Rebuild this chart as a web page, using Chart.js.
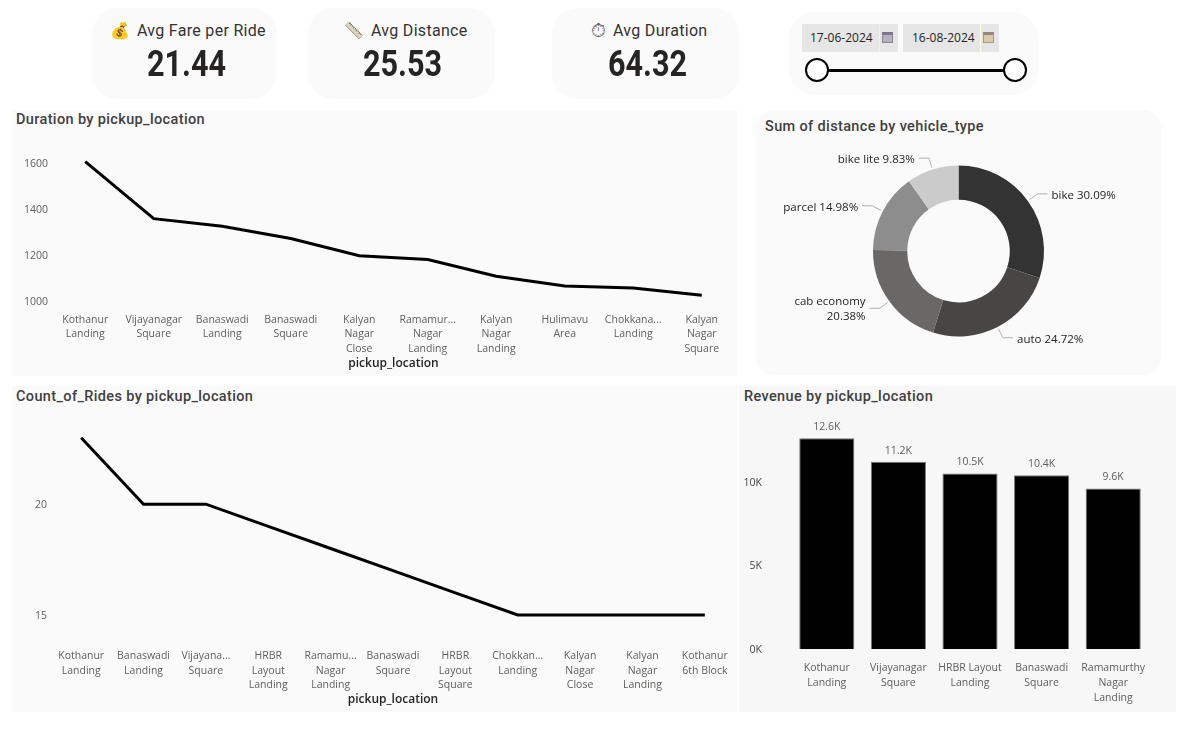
<!DOCTYPE html>
<html><head><meta charset="utf-8">
<script src="https://cdn.jsdelivr.net/npm/chart.js@4"></script>
<style>
html,body{margin:0;padding:0;background:#fff;width:1192px;height:729px;overflow:hidden;font-family:"Open Sans",sans-serif}
.p{position:absolute;background:#fafafa}
.t{position:absolute;font-family:Roboto,sans-serif;font-size:14.5px;font-weight:500;color:#404040;letter-spacing:.36px;white-space:nowrap}
.c{position:absolute}
.cl{position:absolute;font-family:Roboto,sans-serif;font-size:16px;color:#333;letter-spacing:.3px;white-space:nowrap;top:20.5px;height:20px;line-height:20px;display:flex;align-items:center}
.cl i{font-style:normal;display:inline-block;text-align:center;letter-spacing:0;height:20px;line-height:20px}
.cv{position:absolute;text-align:center;font-family:Roboto,sans-serif;font-size:36px;font-weight:700;color:#252423;white-space:nowrap;transform:scaleX(.85);top:43px}
.d{position:absolute;background:#e6e6e6;font-size:12px;color:#252423;height:28px;line-height:28px;white-space:nowrap;box-sizing:border-box}
.d b{position:absolute;right:0;top:0;width:19px;height:28px;border-left:1px solid #eee;box-sizing:border-box}
.d b::before{content:"";position:absolute;left:2px;top:8px;width:11px;height:11px;box-sizing:border-box;background:#b6b2bd;border-top:3px solid #7d7394;border-left:1px solid #8a8594;border-right:1px solid #8a8594;border-bottom:1px solid #8a8594}
.k{position:absolute;box-sizing:border-box;border:2px solid #000;border-radius:50%;background:#fff;width:24px;height:24px;top:58px}
</style></head><body>
<div class="p" style="left:92px;top:8px;width:185px;height:91px;border-radius:26px"></div>
<div class="p" style="left:308px;top:8px;width:187px;height:91px;border-radius:26px"></div>
<div class="p" style="left:552px;top:8px;width:187px;height:91px;border-radius:26px"></div>
<div class="p" style="left:789px;top:12px;width:249px;height:83px;border-radius:26px"></div>
<div class="cl" style="left:110px" id="k1"></div>
<div class="cl" style="left:344px" id="k2"></div>
<div class="cl" style="left:588px" id="k3"></div>
<div class="cv" style="left:94px;width:185px" id="v1"></div>
<div class="cv" style="left:309px;width:187px" id="v2"></div>
<div class="cv" style="left:553.5px;width:187px" id="v3"></div>
<div class="d" style="left:802px;top:24px;width:96px;padding-left:8px"><span id="d1"></span><b></b></div>
<div class="d" style="left:903px;top:24px;width:96px;padding-left:9px"><span id="d2"></span><b style="filter:sepia(.6)"></b></div>
<div style="position:absolute;left:820px;top:69px;width:192px;height:3px;background:#000"></div>
<div class="k" style="left:805px"></div><div class="k" style="left:1003px"></div>

<div class="p" style="left:12px;top:110px;width:726px;height:266px"></div>
<div class="p" style="left:755px;top:110px;width:407px;height:265px;border-radius:20px"></div>
<div class="p" style="left:12px;top:386px;width:726px;height:326px"></div>
<div class="p" style="left:739px;top:386px;width:437px;height:326px;background:#f7f7f7"></div>
<div class="t" style="left:16px;top:111px" id="t1"></div>
<div class="t" style="left:765px;top:118px" id="t2"></div>
<div class="t" style="left:16px;top:388px" id="t3"></div>
<div class="t" style="left:744px;top:388px" id="t4"></div>
<canvas class="c" id="c1" style="left:12px;top:130px"></canvas>
<canvas class="c" id="c2" style="left:755px;top:135px"></canvas>
<canvas class="c" id="c3" style="left:12px;top:408px"></canvas>
<canvas class="c" id="c4" style="left:739px;top:408px"></canvas>
<script>
const kpiIcons=["💰","📏","⏱"];
const kpiLabels=["Avg Fare per Ride","Avg Distance","Avg Duration"];
const kpiValues=["21.44","25.53","64.32"];
const dateRange=["17-06-2024","16-08-2024"];
const titles=["Duration by pickup_location","Sum of distance by vehicle_type","Count_of_Rides by pickup_location","Revenue by pickup_location"];
const durationCats=[["Kothanur","Landing"],["Vijayanagar","Square"],["Banaswadi","Landing"],["Banaswadi","Square"],["Kalyan","Nagar","Close"],["Ramamur...","Nagar","Landing"],["Kalyan","Nagar","Landing"],["Hulimavu","Area"],["Chokkana...","Landing"],["Kalyan","Nagar","Square"]];
const durationVals=[1606,1358,1325,1272,1197,1180,1108,1065,1057,1025];
const durationTicks=[1000,1200,1400,1600];
const vehicleTypes=["bike","auto","cab economy","parcel","bike lite"];
const vehicleShare=[30.09,24.72,20.38,14.98,9.83];
const vehicleColors=["#333333","#474645","#696866","#8e8d8d","#cbcbcb"];
const ridesCats=[["Kothanur","Landing"],["Banaswadi","Landing"],["Vijayana...","Square"],["HRBR","Layout","Landing"],["Ramamu...","Nagar","Landing"],["Banaswadi","Square"],["HRBR","Layout","Square"],["Chokkan...","Landing"],["Kalyan","Nagar","Close"],["Kalyan","Nagar","Landing"],["Kothanur","6th Block"]];
const ridesVals=[23,20,20,19,18,17,16,15,15,15,15];
const ridesTicks=[15,20];
const revenueCats=[["Kothanur","Landing"],["Vijayanagar","Square"],["HRBR Layout","Landing"],["Banaswadi","Square"],["Ramamurthy","Nagar","Landing"]];
const revenueVals=[12600,11200,10500,10400,9600];
const revenueTicks=[0,5000,10000];

kpiLabels.forEach((s,i)=>{const el=document.getElementById('k'+(i+1));const ic=document.createElement('i');ic.textContent=kpiIcons[i];ic.style.width='20px';ic.style.marginRight=(i==2?'5px':'7px');ic.style.fontSize=(i==2?'19px':'16px');if(i==1)ic.style.filter='saturate(.15)';if(i==2)ic.style.color='#666';el.appendChild(ic);el.appendChild(document.createTextNode(s));});
kpiValues.forEach((s,i)=>document.getElementById('v'+(i+1)).textContent=s);
dateRange.forEach((s,i)=>document.getElementById('d'+(i+1)).textContent=s);
titles.forEach((s,i)=>document.getElementById('t'+(i+1)).textContent=s);
Chart.defaults.animation=false;
Chart.defaults.responsive=false;
Chart.defaults.devicePixelRatio=1;
const font={family:'"Open Sans",sans-serif',size:10.5,lineHeight:1.38};
const barFont={family:'"Open Sans",sans-serif',size:10.5,lineHeight:1.42};
function size(id,w,h){const c=document.getElementById(id);c.width=w;c.height=h;c.style.width=w+'px';c.style.height=h+'px';return c;}
function lineOpts(ticks,min,max,yw,top,xh,xpad){return {
 plugins:{legend:{display:false},tooltip:{enabled:false}},
 layout:{padding:{left:0,right:2,top:top,bottom:0}},
 scales:{
  x:{offset:true,grid:{display:false,drawTicks:false},border:{display:false},
     afterFit:s=>{s.height=xh;},
     ticks:{color:'#605e5c',font,maxRotation:0,minRotation:0,autoSkip:false,padding:xpad},
     title:{display:true,text:'pickup_location',color:'#252423',font:{family:'"Open Sans",sans-serif',size:12,weight:'600',lineHeight:1.2},padding:{top:0,bottom:5}}},
  y:{min,max,grid:{display:false,drawTicks:false},border:{display:false},
     afterBuildTicks:s=>{s.ticks=ticks.map(v=>({value:v}));},
     afterFit:s=>{s.width=yw;s.paddingTop=0;s.paddingBottom=0;},
     ticks:{color:'#605e5c',font,padding:3,labelOffset:1,callback:v=>String(v)}}
 }};}
new Chart(size('c1',726,246),{type:'line',data:{labels:durationCats,datasets:[{data:durationVals,borderColor:'#000',borderWidth:3,pointRadius:0,tension:0}]},
 options:lineOpts(durationTicks,950,1700,39,10,63.5,0)});
new Chart(size('c3',726,304),{type:'line',data:{labels:ridesCats,datasets:[{data:ridesVals,borderColor:'#000',borderWidth:3,pointRadius:0,tension:0}]},
 options:lineOpts(ridesTicks,13.6,23.8,38,12,66,3)});
const fmtK=v=>(v/1000).toFixed(v%1000?1:0)+'K';
const barLabels={id:'barLabels',afterDatasetsDraw(ch){const c=ch.ctx;c.save();c.font='10.5px "Open Sans",sans-serif';c.fillStyle='#605e5c';c.textAlign='center';c.textBaseline='bottom';
 ch.getDatasetMeta(0).data.forEach((b,i)=>c.fillText(fmtK(revenueVals[i]),b.x,b.y-6));c.restore();}};
new Chart(size('c4',437,304),{type:'bar',data:{labels:revenueCats,datasets:[{data:revenueVals,backgroundColor:'#000',borderColor:'#777',borderWidth:1,barPercentage:.77,categoryPercentage:1}]},
 plugins:[barLabels],
 options:{plugins:{legend:{display:false},tooltip:{enabled:false}},
 layout:{padding:{left:0,right:27,top:17,bottom:0}},
 scales:{x:{grid:{display:false,drawTicks:false},border:{display:false},afterFit:s=>{s.height=63;},ticks:{color:'#605e5c',font:barFont,maxRotation:0,minRotation:0,autoSkip:false,padding:12}},
  y:{min:0,max:13400,grid:{display:false,drawTicks:false},border:{display:false},
   afterBuildTicks:s=>{s.ticks=revenueTicks.map(v=>({value:v}));},
   afterFit:s=>{s.width=52;s.paddingTop=0;s.paddingBottom=0;},
   ticks:{color:'#444',font,padding:29,labelOffset:1,callback:v=>fmtK(v)}}}}});
const donutLabels={id:'donutLabels',afterDatasetsDraw(ch){const c=ch.ctx;c.save();c.font='11.5px "Open Sans",sans-serif';c.fillStyle='#252423';c.textBaseline='middle';
 ch.getDatasetMeta(0).data.forEach((a,i)=>{const m=(a.startAngle+a.endAngle)/2,cs=Math.cos(m),sn=Math.sin(m),r=a.outerRadius;
  const x1=a.x+cs*(r+2),y1=a.y+sn*(r+2),x2=a.x+cs*(r+12),y2=a.y+sn*(r+12),d=cs>=0?1:-1,x3=x2+d*10;
  c.strokeStyle='#b3b0ad';c.lineWidth=1;c.beginPath();c.moveTo(x1,y1);c.lineTo(x2,y2);c.lineTo(x3,y2);c.stroke();
  c.textAlign=d>0?'left':'right';const n=vehicleTypes[i],p=vehicleShare[i].toFixed(2)+'%',full=n+' '+p;
  if(c.measureText(full).width>100){c.fillText(n,x3+d*4,y2-7);c.fillText(p,x3+d*4,y2+8);}
  else c.fillText(full,x3+d*4,y2+2);
 });c.restore();}};
new Chart(size('c2',407,232),{type:'doughnut',data:{labels:vehicleTypes,datasets:[{data:vehicleShare,backgroundColor:vehicleColors,borderWidth:0}]},
 plugins:[donutLabels],
 options:{radius:85.5,cutout:'60%',plugins:{legend:{display:false},tooltip:{enabled:false}}}});
</script></body></html>
